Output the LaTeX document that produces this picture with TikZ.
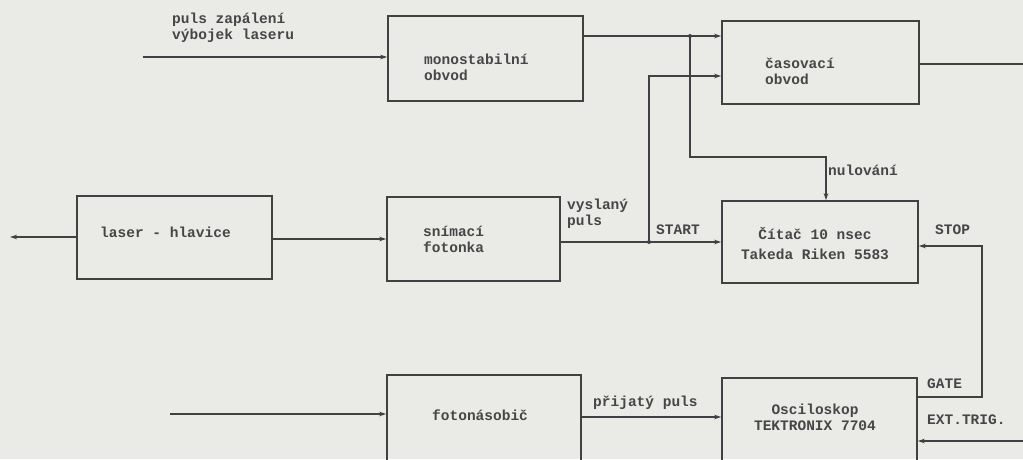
\documentclass[tikz,border=0pt]{standalone}
\usepackage{fontspec}
\setmainfont{Liberation Mono}
\usetikzlibrary{arrows.meta}
\definecolor{paper}{RGB}{234,234,231}
\definecolor{ink}{RGB}{65,65,65}
\definecolor{txt}{RGB}{70,70,70}
\tikzset{
  box/.style={draw=ink, line width=1.5pt, rectangle, inner sep=0pt},
  wire/.style={draw=ink, line width=1.3pt},
  arr/.style={wire, -{Stealth[length=7pt,width=4.5pt]}},
  lbl/.style={text=txt, inner sep=0pt, anchor=west, font=\fontsize{14.5}{16}\selectfont\bfseries, align=left},
  ctr/.style={text=txt, inner sep=0pt, font=\fontsize{14.5}{16}\selectfont\bfseries, align=center},
  jdot/.style={circle, fill=ink, inner sep=0pt, minimum size=4pt}
}
\begin{document}
\begin{tikzpicture}[x=1pt,y=-1pt]
\fill[paper] (0,0) rectangle (1023,459);
\useasboundingbox (0,0) rectangle (1023,459);

% boxes
\node[box, minimum width=195pt, minimum height=85pt] (mono) at (485.5,58.5) {};
\node[box, minimum width=197pt, minimum height=83pt] (cas) at (820.5,62.5) {};
\node[box, minimum width=195pt, minimum height=83pt] (laser) at (174.5,237.5) {};
\node[box, minimum width=173pt, minimum height=84pt] (snim) at (473.5,239) {};
\node[box, minimum width=196pt, minimum height=82pt] (citac) at (820,242) {};
\node[box, minimum width=194pt, minimum height=95pt] (foton) at (484,422.5) {};
\node[box, minimum width=195pt, minimum height=92pt] (osc) at (819.5,424) {};

% box texts
\node[lbl] (tmono) at (424,67) {monostabilní\\obvod};
\node[lbl] (tcas) at (765,71) {časovací\\obvod};
\node[lbl] (tlaser) at (100,232) {laser - hlavice};
\node[lbl] (tsnim) at (423,239) {snímací\\fotonka};
\node[ctr] (tcitac) at (815,244) {Čítač 10 nsec\\[4pt]Takeda Riken 5583};
\node[lbl] (tfoton) at (432,415) {fotonásobič};
\node[ctr] (tosc) at (815,417) {Osciloskop\\TEKTRONIX 7704};

% free ends and junctions
\coordinate (in1) at (143,57);
\coordinate (in2) at (170,414);
\coordinate (outl) at (10,237);
\coordinate (outr) at (1023,64);
\coordinate (trig) at (1023,441);
\coordinate (j1) at (690,36);
\coordinate (j2) at (649,242);
\coordinate (c1) at (690,157);
\coordinate (c2) at (826,157);
\coordinate (c3) at (649,76);
\coordinate (s1) at (982,397);
\coordinate (s2) at (982,246);

% connectors
\draw[arr] (in1) -- (in1 -| mono.west);
\draw[arr] (mono.east |- j1) -- (j1) -- (j1 -| cas.west);
\draw[arr] (j1) -- (c1) -- (c2) -- (c2 |- citac.north);
\draw[arr] (j2) -- (c3) -- (c3 -| cas.west);
\draw[arr] (snim.east |- j2) -- (j2) -- (j2 -| citac.west);
\draw[arr] (laser.west |- outl) -- (outl);
\draw[arr] (laser.east |- 0,239) -- (snim.west |- 0,239);
\draw[wire] (cas.east |- outr) -- (outr);
\draw[arr] (osc.east |- s1) -- (s1) -- (s2) -- (s2 -| citac.east);
\draw[arr] (in2) -- (in2 -| foton.west);
\draw[arr] (foton.east |- 0,417) -- (osc.west |- 0,417);
\draw[arr] (trig) -- (trig -| osc.east);

\node[jdot] (d1) at (j1) {};
\node[jdot] (d2) at (j2) {};

% labels
\node[lbl] (lin) at (172,28) {puls zapálení\\výbojek laseru};
\node[lbl] (lvys) at (567,214) {vyslaný\\puls};
\node[lbl] (lstart) at (656,230) {START};
\node[lbl] (lnul) at (828,170) {nulování};
\node[lbl] (lstop) at (935,230) {STOP};
\node[lbl] (lgate) at (927,384) {GATE};
\node[lbl] (ltrig) at (927,420) {EXT.TRIG.};
\node[lbl] (lprij) at (593,403) {přijatý puls};
\end{tikzpicture}
\end{document}
